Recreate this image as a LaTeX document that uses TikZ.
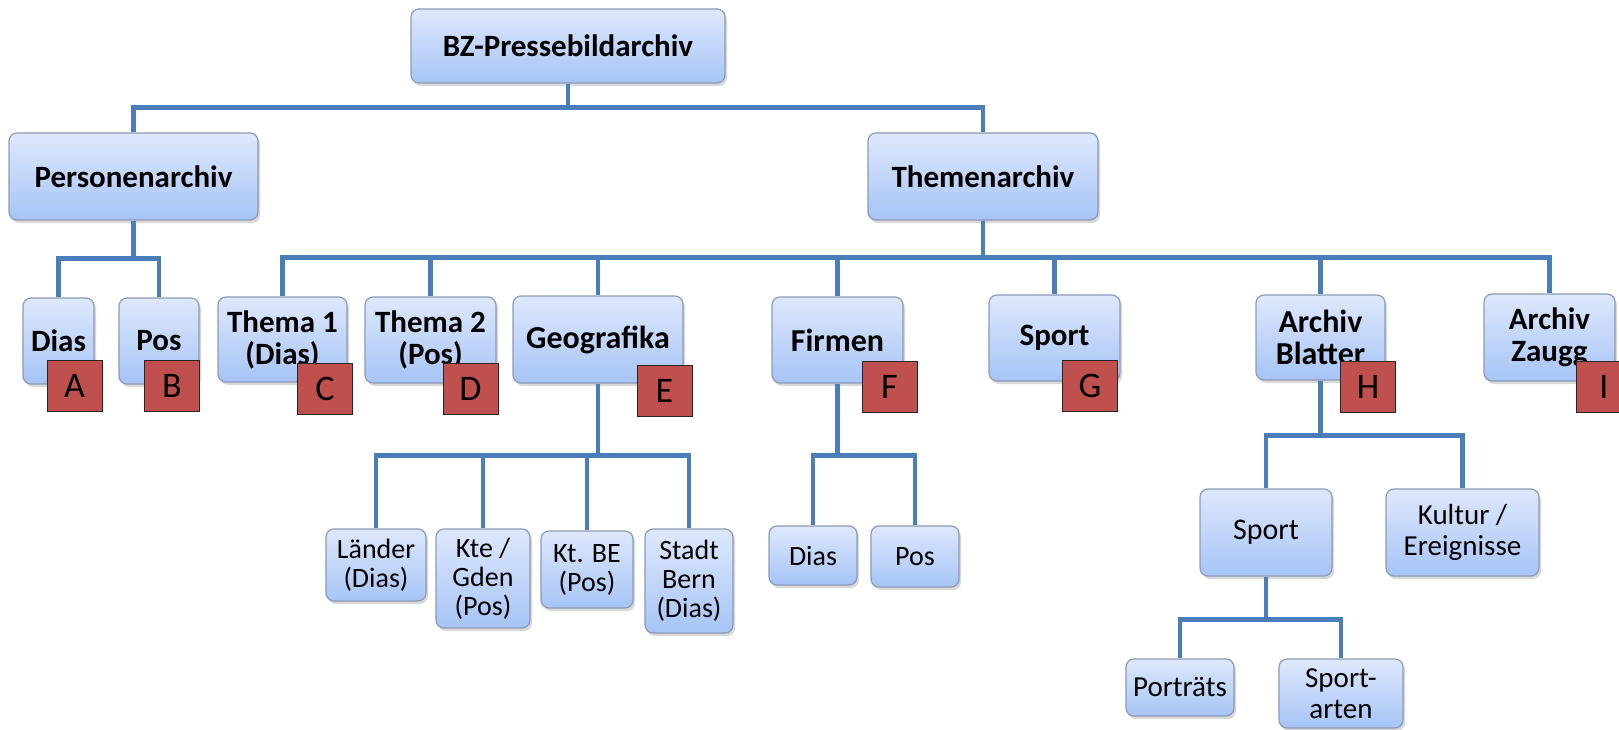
\documentclass[tikz,border=0pt]{standalone}
\usepackage{fontspec}
\setmainfont{Carlito}
\usetikzlibrary{shadows}
\definecolor{boxtop}{RGB}{222,232,252}
\definecolor{boxbot}{RGB}{166,196,246}
\definecolor{boxline}{RGB}{140,155,182}
\definecolor{linkblue}{RGB}{74,126,187}
\definecolor{tagred}{RGB}{192,80,77}
\tikzset{
  box/.style={draw=boxline, line width=1.2pt, rounded corners=8pt,
    top color=boxtop, bottom color=boxbot, inner sep=0pt, align=center,
    drop shadow={shadow xshift=2pt, shadow yshift=-3pt, fill=black!30},
    font=\fontsize{28}{29}\selectfont},
  hbox/.style={box, font=\fontsize{31}{32}\selectfont\bfseries},
  tag/.style={draw=black!85, fill=tagred, line width=1pt, inner sep=0pt,
    minimum width=55pt, minimum height=51pt, font=\fontsize{36}{36}\selectfont},
  conn/.style={draw=linkblue, line width=4.5pt},
}
\begin{document}
\begin{tikzpicture}[x=1pt,y=1pt]
\useasboundingbox (0,0) rectangle (1619,-730);
% top levels
\node[hbox, minimum width=314pt, minimum height=74pt] (root) at (568,-46) {BZ-Pressebildarchiv};
\node[hbox, minimum width=249pt, minimum height=87pt] (pers) at (133.5,-176.5) {Personenarchiv};
\node[hbox, minimum width=230pt, minimum height=87pt] (them) at (983,-176.5) {Themenarchiv};
% archive boxes
\node[hbox, minimum width=71pt, minimum height=86pt] (pdias) at (58.5,-341) {Dias};
\node[hbox, minimum width=80pt, minimum height=86pt] (ppos) at (159,-341) {Pos};
\node[hbox, minimum width=129pt, minimum height=85pt] (thema1) at (282.5,-339.5) {Thema 1\\(Dias)};
\node[hbox, minimum width=131pt, minimum height=86pt] (thema2) at (430.5,-340) {Thema 2\\(Pos)};
\node[hbox, minimum width=170pt, minimum height=87pt, font=\fontsize{32}{32}\selectfont\bfseries] (geo) at (598,-339.5) {Geografika};
\node[hbox, minimum width=131pt, minimum height=86pt, font=\fontsize{32}{32}\selectfont\bfseries] (firm) at (837.5,-340) {Firmen};
\node[hbox, minimum width=131pt, minimum height=86pt] (sport) at (1054.5,-338) {Sport};
\node[hbox, minimum width=129pt, minimum height=85pt, font=\fontsize{32}{32}\selectfont\bfseries] (blat) at (1320.5,-337.5) {Archiv\\Blatter};
\node[hbox, minimum width=131pt, minimum height=87pt] (zaugg) at (1549.5,-337.5) {Archiv\\Zaugg};
% sub boxes
\node[box, minimum width=100pt, minimum height=72pt] (laender) at (376,-565) {Länder\\(Dias)};
\node[box, minimum width=94pt, minimum height=99pt] (ktegden) at (483,-578.5) {Kte /\\Gden\\(Pos)};
\node[box, minimum width=92pt, minimum height=77pt] (ktbe) at (587,-569.5) {Kt. BE\\(Pos)};
\node[box, minimum width=88pt, minimum height=104pt] (stadt) at (689,-581) {Stadt\\Bern\\(Dias)};
\node[box, minimum width=88pt, minimum height=59pt] (fdias) at (813,-555.5) {Dias};
\node[box, minimum width=88pt, minimum height=61pt] (fpos) at (915,-556.5) {Pos};
\node[box, minimum width=132pt, minimum height=87pt, font=\fontsize{30}{31}\selectfont] (bsport) at (1266,-532.5) {Sport};
\node[box, minimum width=153pt, minimum height=87pt, font=\fontsize{29}{31}\selectfont] (kultur) at (1462.5,-532.5) {Kultur /\\Ereignisse};
\node[box, minimum width=108pt, minimum height=57pt, font=\fontsize{29}{31}\selectfont] (portr) at (1180,-687.5) {Porträts};
\node[box, minimum width=124pt, minimum height=69pt, font=\fontsize{29}{31}\selectfont] (sparten) at (1341,-693.5) {Sport-\\arten};
% connectors
\draw[conn] (root.south) -- ++(0,-24) -| (pers.north);
\draw[conn] (root.south) -- ++(0,-24) -| (them.north);
\draw[conn] (pers.south) -- ++(0,-38) -| (pdias.north);
\draw[conn] (pers.south) -- ++(0,-38) -| (ppos.north);
\draw[conn] (them.south) -- ++(0,-37) -| (thema1.north);
\draw[conn] (them.south) -- ++(0,-37) -| (thema2.north);
\draw[conn] (them.south) -- ++(0,-37) -| (geo.north);
\draw[conn] (them.south) -- ++(0,-37) -| (firm.north);
\draw[conn] (them.south) -- ++(0,-37) -| (sport.north);
\draw[conn] (them.south) -- ++(0,-37) -| (blat.north);
\draw[conn] (them.south) -- ++(0,-37) -| (zaugg.north);
\draw[conn] (geo.south) -- ++(0,-72) -| (laender.north);
\draw[conn] (geo.south) -- ++(0,-72) -| (ktegden.north);
\draw[conn] (geo.south) -- ++(0,-72) -| (ktbe.north);
\draw[conn] (geo.south) -- ++(0,-72) -| (stadt.north);
\draw[conn] (firm.south) -- ++(0,-72) -| (fdias.north);
\draw[conn] (firm.south) -- ++(0,-72) -| (fpos.north);
\draw[conn] (blat.south) -- ++(0,-55) -| (bsport.north);
\draw[conn] (blat.south) -- ++(0,-55) -| (kultur.north);
\draw[conn] (bsport.south) -- ++(0,-43) -| (portr.north);
\draw[conn] (bsport.south) -- ++(0,-43) -| (sparten.north);
% red tags
\node[tag] (tagA) at (74.5,-386) {A};
\node[tag] (tagB) at (172,-386) {B};
\node[tag] (tagC) at (325,-389) {C};
\node[tag] (tagD) at (470.5,-389) {D};
\node[tag] (tagE) at (664.5,-391) {E};
\node[tag] (tagF) at (889.5,-387) {F};
\node[tag] (tagG) at (1090,-386) {G};
\node[tag] (tagH) at (1368,-387) {H};
\node[tag] (tagI) at (1604,-387) {I};
\end{tikzpicture}
\end{document}
